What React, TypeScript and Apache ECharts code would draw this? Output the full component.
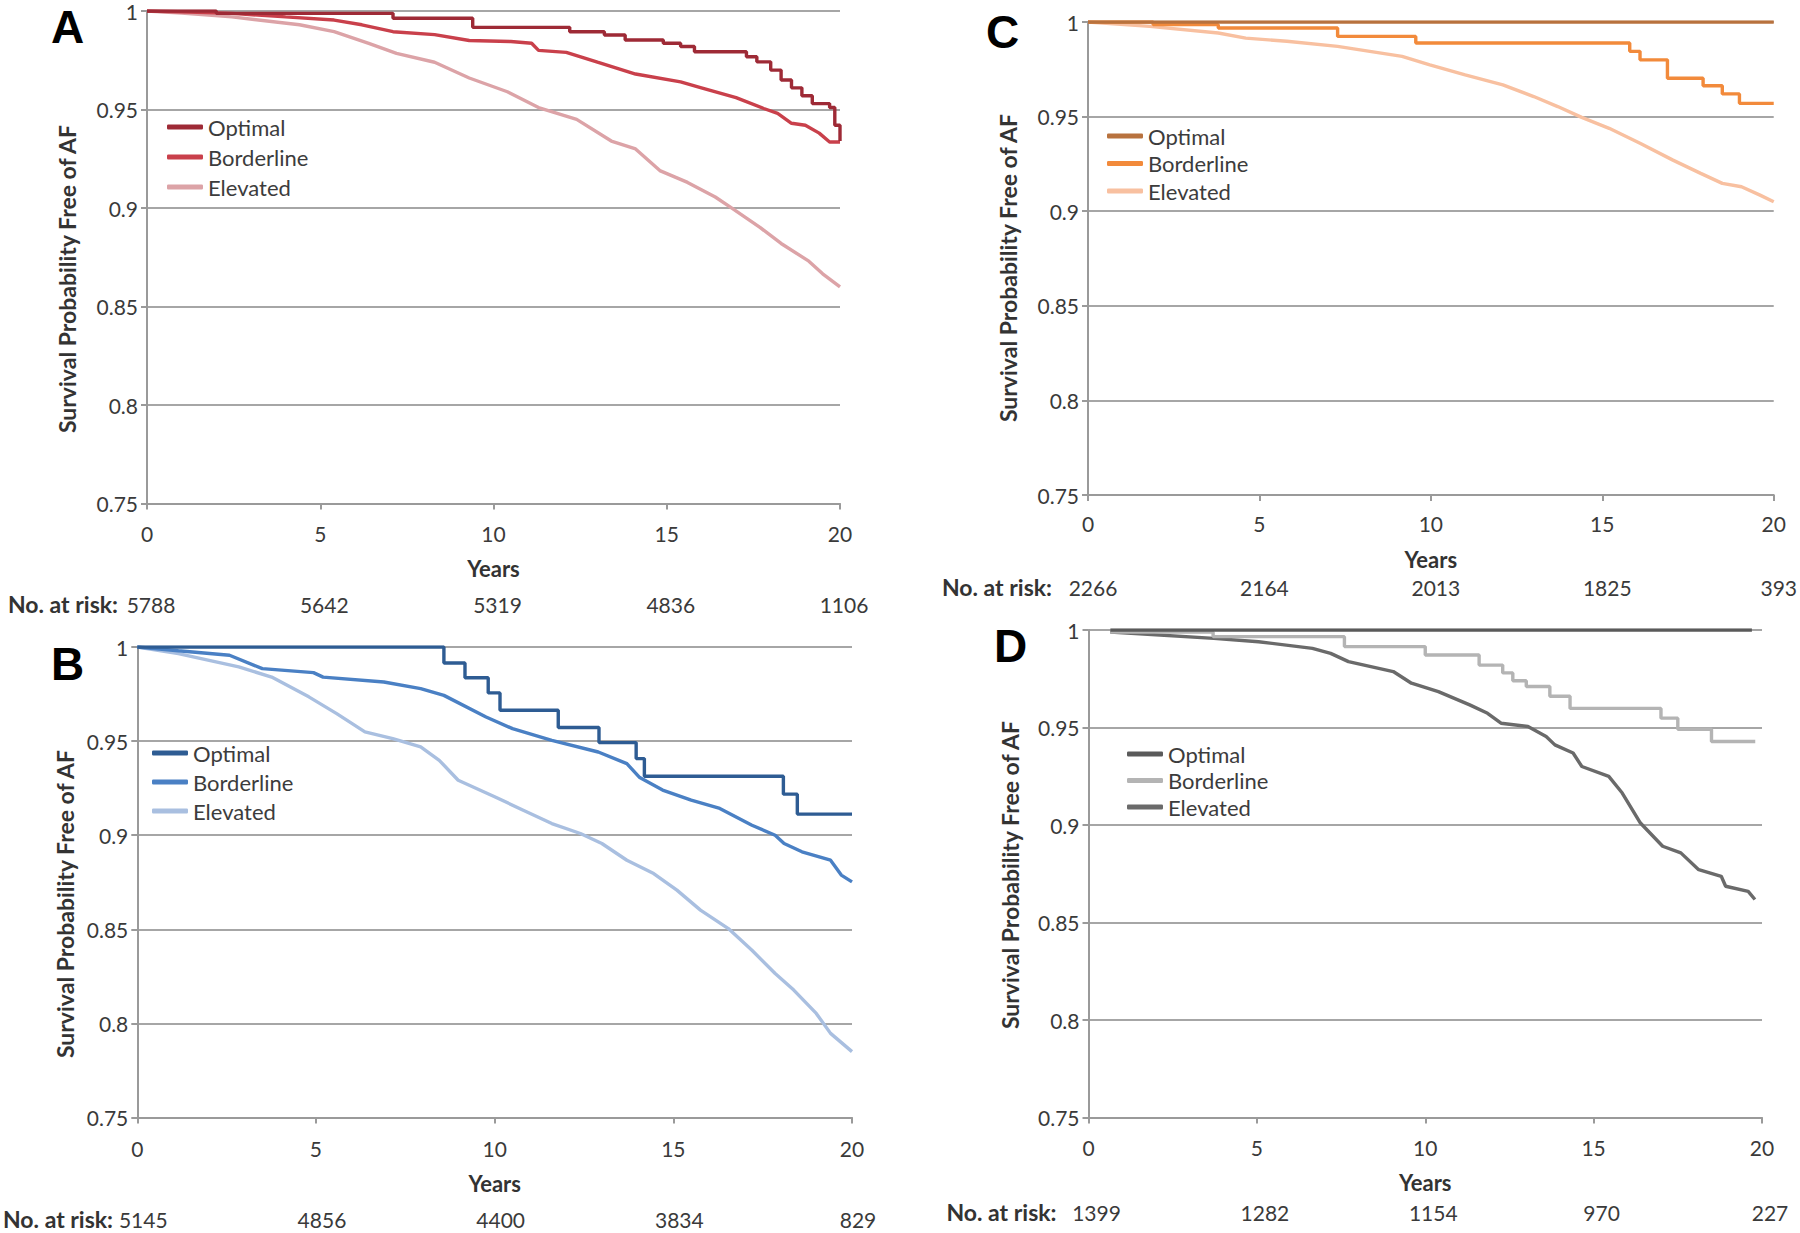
import React, { useEffect, useRef } from "react";
import * as echarts from "echarts";

type Pt = [number, number];

const SERIES_NAMES = ["Optimal", "Borderline", "Elevated"];
const Y_TITLE = "Survival Probability Free of AF";
const X_TITLE = "Years";
const RISK_TITLE = "No. at risk:";

// ---- Panel A (red) ----
const atRiskA = [5788, 5642, 5319, 4836, 1106];
const optimalA: Pt[] = [[0, 1], [2.0, 0.9988], [7.1, 0.9963], [9.4, 0.9917], [12.2, 0.9895], [13.2, 0.9878], [13.8, 0.9853], [14.9, 0.9836], [15.4, 0.982], [15.8, 0.9793], [17.3, 0.9768], [17.6, 0.9742], [18.0, 0.970], [18.3, 0.965], [18.6, 0.961], [18.9, 0.957], [19.2, 0.953], [19.7, 0.951], [19.85, 0.942], [20, 0.934]];
const borderlineA: Pt[] = [[0, 1], [1.2, 0.9995], [2.45, 0.9988], [4.0, 0.997], [5.4, 0.9954], [6.2, 0.993], [7.1, 0.9895], [8.3, 0.988], [9.3, 0.985], [10.5, 0.9845], [11.1, 0.9836], [11.3, 0.980], [12.1, 0.979], [13.0, 0.974], [14.1, 0.968], [15.4, 0.964], [16.0, 0.961], [17.0, 0.956], [17.8, 0.9505], [18.2, 0.948], [18.6, 0.943], [19.0, 0.942], [19.4, 0.938], [19.7, 0.9335], [20, 0.9335]];
const elevatedA: Pt[] = [[0, 1], [1.0, 0.999], [2.45, 0.997], [4.4, 0.993], [5.4, 0.9895], [6.4, 0.9836], [7.2, 0.9785], [8.3, 0.974], [9.3, 0.966], [10.4, 0.959], [11.3, 0.951], [12.4, 0.945], [13.4, 0.934], [14.1, 0.930], [14.8, 0.919], [15.6, 0.913], [16.4, 0.9056], [16.9, 0.8997], [17.7, 0.890], [18.3, 0.882], [19.1, 0.873], [19.5, 0.8666], [20, 0.860]];

// ---- Panel B (blue) ----
const atRiskB = [5145, 4856, 4400, 3834, 829];
const optimalB: Pt[] = [[0, 1], [8.58, 0.9915], [9.17, 0.9837], [9.82, 0.9756], [10.15, 0.9664], [11.78, 0.9572], [12.92, 0.9492], [13.96, 0.9407], [14.19, 0.9313], [18.08, 0.9218], [18.47, 0.9112], [20, 0.9112]];
const borderlineB: Pt[] = [[0, 1], [1.15, 0.998], [2.58, 0.9956], [3.5, 0.9885], [4.93, 0.9864], [5.2, 0.984], [6.9, 0.9814], [7.93, 0.9779], [8.58, 0.9743], [9.76, 0.9628], [10.5, 0.9566], [11.6, 0.9504], [12.9, 0.9442], [13.7, 0.938], [14.06, 0.9306], [14.7, 0.924], [15.5, 0.9186], [16.3, 0.9142], [17.2, 0.9053], [17.85, 0.9], [18.1, 0.8956], [18.6, 0.8912], [19.4, 0.8867], [19.7, 0.8788], [20, 0.8752]];
const elevatedB: Pt[] = [[0, 1], [1.15, 0.9965], [2.84, 0.9894], [3.76, 0.984], [4.8, 0.9735], [5.58, 0.9646], [6.37, 0.9549], [7.15, 0.9513], [7.93, 0.9469], [8.45, 0.9398], [8.98, 0.9292], [10.0, 0.9204], [10.8, 0.9133], [11.6, 0.9062], [12.4, 0.9009], [13.0, 0.8956], [13.7, 0.8867], [14.45, 0.8796], [15.1, 0.8708], [15.76, 0.8602], [16.54, 0.8504], [17.2, 0.8389], [17.85, 0.8265], [18.37, 0.8177], [19.0, 0.8053], [19.4, 0.7947], [20, 0.785]];

// ---- Panel C (orange) ----
const atRiskC = [2266, 2164, 2013, 1825, 393];
const optimalC: Pt[] = [[0, 1], [20, 1]];
const borderlineC: Pt[] = [[0, 1], [1.9, 0.9986], [3.8, 0.9968], [7.28, 0.9924], [9.56, 0.9889], [15.8, 0.9845], [16.1, 0.980], [16.9, 0.9703], [17.94, 0.9663], [18.5, 0.962], [19.0, 0.957], [20, 0.957]];
const elevatedC: Pt[] = [[0, 1], [1.8, 0.9977], [3.8, 0.9942], [4.6, 0.9915], [5.8, 0.9898], [7.28, 0.9871], [9.16, 0.9818], [9.97, 0.9774], [11.0, 0.972], [12.1, 0.9668], [13.0, 0.9606], [13.7, 0.9553], [14.4, 0.9496], [15.2, 0.9438], [16.1, 0.9359], [17.06, 0.927], [17.87, 0.92], [18.5, 0.9147], [19.06, 0.9129], [19.6, 0.9085], [20, 0.905]];

// ---- Panel D (gray) ----
const atRiskD = [1399, 1282, 1154, 970, 227];
const optimalD: Pt[] = [[0.65, 1], [19.7, 1]];
const borderlineD: Pt[] = [[0.65, 0.999], [3.7, 0.9966], [7.6, 0.9915], [10.0, 0.9872], [11.6, 0.982], [12.3, 0.978], [12.6, 0.974], [13.0, 0.971], [13.7, 0.966], [14.3, 0.9598], [17.0, 0.9548], [17.5, 0.9491], [18.5, 0.9428], [19.8, 0.9428]];
const elevatedD: Pt[] = [[0.65, 0.999], [3.72, 0.9957], [5.05, 0.994], [6.65, 0.9906], [7.19, 0.988], [7.72, 0.9838], [9.05, 0.9787], [9.59, 0.9727], [10.39, 0.9684], [11.32, 0.9616], [11.85, 0.9573], [12.25, 0.9522], [13.05, 0.9505], [13.59, 0.9454], [13.85, 0.9411], [14.39, 0.9369], [14.65, 0.93], [15.45, 0.9249], [15.85, 0.9164], [16.39, 0.901], [17.05, 0.8891], [17.59, 0.8857], [18.12, 0.8771], [18.79, 0.8737], [18.92, 0.8686], [19.59, 0.866], [19.79, 0.8618]];

interface PanelCfg {
  letter: string;
  box: { left: number; top: number; width: number; height: number };
  grid: { left: number; top: number; width: number; height: number };
  data: [Pt[], Pt[], Pt[]];
  colors: [string, string, string];
  steps: [boolean, boolean, boolean];
  atRisk: number[];
  letterPos: [number, number];
  titlePos: [number, number];
  legend: { left: number; top: number; gap: number };
  labelGap: number;
  yearsGap: number;
  riskOffset: number;
  riskNameGap: number;
  riskShift: number;
}

const FONT = "Lato";
const GRID_COLOR = "#a6a6a6";
const AXIS_COLOR = "#9a9a9a";

function buildOption(p: PanelCfg) {
  const series = [2, 1, 0].map((i) => ({
    type: "line",
    name: SERIES_NAMES[i],
    data: p.data[i],
    step: p.steps[i] ? "end" : false,
    showSymbol: false,
    symbol: "none",
    color: p.colors[i],
    lineStyle: { width: 3.4, color: p.colors[i] },
    xAxisIndex: 0,
    yAxisIndex: 0,
  }));
  return {
    animation: false,
    title: {
      text: p.letter,
      left: p.letterPos[0],
      top: p.letterPos[1],
      padding: 0,
      textStyle: { fontFamily: "Liberation Sans", fontWeight: "bold", fontSize: 46, lineHeight: 46, color: "#000" },
    },
    legend: {
      orient: "vertical",
      left: p.legend.left,
      top: p.legend.top,
      itemWidth: 36,
      itemHeight: 5,
      itemGap: p.legend.gap,
      icon: "roundRect",
      selectedMode: false,
      data: SERIES_NAMES,
      textStyle: { fontFamily: FONT, fontSize: 22, color: "#3c3c3c", lineHeight: 22 },
    },
    grid: { ...p.grid, containLabel: false },
    xAxis: [
      {
        type: "value",
        min: 0,
        max: 20,
        interval: 5,
        name: X_TITLE,
        nameLocation: "middle",
        nameGap: p.yearsGap,
        nameTextStyle: { fontFamily: FONT, fontWeight: "bold", fontSize: 22, color: "#333" },
        axisLine: { show: true, lineStyle: { color: AXIS_COLOR, width: 2 } },
        axisTick: { show: true, length: 6, lineStyle: { color: AXIS_COLOR, width: 2 } },
        axisLabel: { margin: p.labelGap, fontFamily: FONT, fontSize: 21, color: "#3a3a3a" },
        splitLine: { show: false },
      },
      {
        type: "value",
        min: 0,
        max: 20,
        interval: 5,
        position: "bottom",
        offset: p.riskOffset,
        name: RISK_TITLE,
        nameLocation: "start",
        nameGap: p.riskNameGap,
        nameTextStyle: { fontFamily: FONT, fontWeight: "bold", fontSize: 23, color: "#333", verticalAlign: "middle" },
        axisLine: { show: false },
        axisTick: { show: false },
        splitLine: { show: false },
        axisLabel: {
          margin: 0,
          verticalAlign: "middle",
          fontFamily: FONT,
          fontSize: 21,
          color: "#3a3a3a",
          padding: [0, 0, 0, p.riskShift * 2],
          formatter: (v: number) => String(p.atRisk[Math.round(v / 5)] ?? ""),
        },
      },
    ],
    yAxis: {
      type: "value",
      min: 0.75,
      max: 1,
      interval: 0.05,
      axisLine: { show: true, lineStyle: { color: AXIS_COLOR, width: 2 } },
      axisTick: { show: true, length: 6, lineStyle: { color: AXIS_COLOR, width: 2 } },
      axisLabel: { margin: 9, fontFamily: FONT, fontSize: 21, color: "#3a3a3a" },
      splitLine: { show: true, lineStyle: { color: GRID_COLOR, width: 2 } },
    },
    graphic: [
      {
        type: "text",
        x: p.titlePos[0],
        y: p.titlePos[1],
        rotation: Math.PI / 2,
        style: {
          text: Y_TITLE,
          font: `bold 23px ${FONT}`,
          fill: "#333",
          align: "center",
          verticalAlign: "middle",
        },
      },
    ],
    series,
  };
}

const PANELS: PanelCfg[] = [
  {
    letter: "A",
    box: { left: 0, top: 0, width: 900, height: 620 },
    grid: { left: 147, top: 11, width: 693, height: 492.5 },
    data: [optimalA, borderlineA, elevatedA],
    colors: ["#9e2a36", "#c9404b", "#dca3a7"],
    steps: [true, false, false],
    atRisk: atRiskA,
    letterPos: [51, 4],
    titlePos: [67, 279],
    legend: { left: 162, top: 111, gap: 8 },
    labelGap: 19,
    yearsGap: 54,
    riskOffset: 100.5,
    riskNameGap: 29,
    riskShift: 4,
  },
  {
    letter: "C",
    box: { left: 900, top: 0, width: 900, height: 620 },
    grid: { left: 188, top: 22, width: 688, height: 473 },
    data: [optimalC, borderlineC, elevatedC],
    colors: ["#b8723e", "#f28a3b", "#f8c0a0"],
    steps: [true, true, false],
    atRisk: atRiskC,
    letterPos: [86, 9],
    titlePos: [108, 268],
    legend: { left: 202, top: 120, gap: 5.5 },
    labelGap: 18,
    yearsGap: 53,
    riskOffset: 92,
    riskNameGap: 36,
    riskShift: 5,
  },
  {
    letter: "B",
    box: { left: 0, top: 600, width: 900, height: 633 },
    grid: { left: 137, top: 47, width: 715, height: 470.5 },
    data: [optimalB, borderlineB, elevatedB],
    colors: ["#2e5c93", "#4a80c4", "#a9bfe0"],
    steps: [true, false, false],
    atRisk: atRiskB,
    letterPos: [51, 41],
    titlePos: [65, 304],
    legend: { left: 147, top: 137, gap: 7 },
    labelGap: 20,
    yearsGap: 55,
    riskOffset: 101.5,
    riskNameGap: 22,
    riskShift: 6,
  },
  {
    letter: "D",
    box: { left: 900, top: 600, width: 900, height: 633 },
    grid: { left: 188.5, top: 30, width: 673.5, height: 487.5 },
    data: [optimalD, borderlineD, elevatedD],
    colors: ["#5a5a5a", "#b4b4b4", "#6a6a6a"],
    steps: [true, true, false],
    atRisk: atRiskD,
    letterPos: [94, 23],
    titlePos: [110, 275],
    legend: { left: 222, top: 138, gap: 4.5 },
    labelGap: 19,
    yearsGap: 54,
    riskOffset: 94.5,
    riskNameGap: 32,
    riskShift: 8,
  },
];

function Panel({ cfg }: { cfg: PanelCfg }) {
  const ref = useRef<HTMLDivElement>(null);
  useEffect(() => {
    if (!ref.current) return;
    const chart = echarts.init(ref.current, undefined, { renderer: "svg" });
    chart.setOption(buildOption(cfg) as any);
    return () => chart.dispose();
  }, [cfg]);
  return (
    <div
      ref={ref}
      style={{
        position: "absolute",
        left: cfg.box.left,
        top: cfg.box.top,
        width: cfg.box.width,
        height: cfg.box.height,
      }}
    />
  );
}

export default function App() {
  return (
    <div
      style={{
        position: "absolute",
        left: 0,
        top: 0,
        width: 1800,
        height: 1233,
        background: "#ffffff",
        overflow: "hidden",
      }}
    >
      {PANELS.map((p) => (
        <Panel key={p.letter} cfg={p} />
      ))}
    </div>
  );
}
